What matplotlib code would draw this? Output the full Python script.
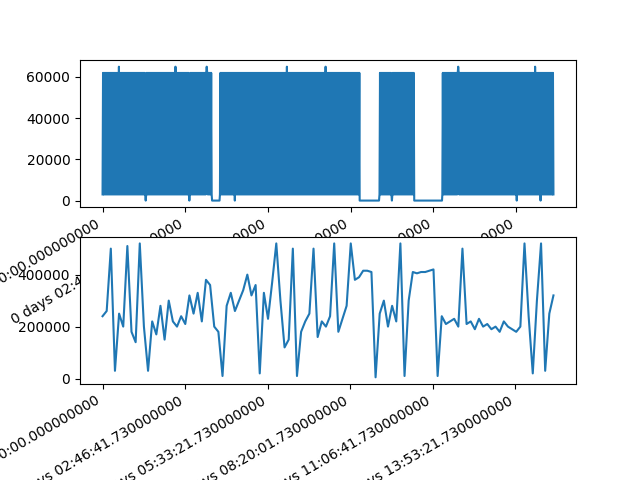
import numpy as np
import matplotlib
matplotlib.use("Agg")
from matplotlib import pyplot as plt

# top series: segments (start_s, end_s, level) ; 'osc' = oscillating between low and high
seg_start = [0, 13250, 14200, 31100, 33500, 37700, 41100]
seg_end = [13250, 14200, 31100, 33500, 37700, 41100, 54600]
seg_kind = ['osc', 'zero', 'osc', 'zero', 'osc', 'zero', 'osc']
osc_low, osc_high = 3000, 62000
spike_t = [2000, 5200, 8800, 10500, 12600, 16000, 22300, 27000, 35000, 43000, 50100, 52300, 53000]
spike_v = [65000, 0, 65000, 0, 65000, 0, 65000, 65000, 0, 65000, 0, 65000, 0]

# bottom series, sampled every ~500 s
bot_vals = [240000, 260000, 500000, 30000, 250000,
            200000, 510000, 180000, 140000, 520000,
            200000, 30000, 220000, 170000, 280000,
            150000, 300000, 220000, 200000, 240000,
            210000, 320000, 250000, 330000, 220000,
            380000, 360000, 200000, 180000, 10000,
            280000, 330000, 260000, 300000, 340000,
            400000, 320000, 360000, 20000, 330000,
            230000, 370000, 520000, 300000, 120000,
            150000, 500000, 10000, 180000, 220000,
            250000, 500000, 160000, 220000, 200000,
            240000, 520000, 180000, 230000, 280000,
            520000, 380000, 390000, 415000, 415000,
            410000, 5000, 250000, 300000, 200000,
            280000, 220000, 520000, 10000, 300000,
            410000, 405000, 410000, 410000, 415000,
            420000, 10000, 240000, 210000, 220000,
            230000, 200000, 500000, 210000, 220000,
            190000, 230000, 200000, 210000, 190000,
            200000, 180000, 220000, 200000, 190000,
            180000, 200000, 520000, 240000, 20000,
            300000, 520000, 30000, 250000, 320000]
bot_t = np.linspace(0, 54600, len(bot_vals))

tick_pos = [0, 10001.73, 20001.73, 30001.73, 40001.73, 50001.73]
tick_lab = ['0 days 00:00:00.000000000', '0 days 02:46:41.730000000', '0 days 05:33:21.730000000',
            '0 days 08:20:01.730000000', '0 days 11:06:41.730000000', '0 days 13:53:21.730000000']

# build top trace
tt, tv = [], []
for s, e, k in zip(seg_start, seg_end, seg_kind):
    ts = np.arange(s, e, 60.0)
    if k == 'osc':
        vals = np.where(np.arange(len(ts)) % 2 == 0, osc_low, osc_high)
    else:
        vals = np.zeros(len(ts))
    tt.extend(ts); tv.extend(vals)
tt = np.array(tt); tv = np.array(tv, dtype=float)
for st, sv in zip(spike_t, spike_v):
    tv[np.argmin(np.abs(tt - st))] = sv

fig, (ax1, ax2) = plt.subplots(2, 1, figsize=(6.4, 4.8), dpi=100)
fig.subplots_adjust(bottom=0.2, top=0.875, hspace=0.2)
ax1.plot(tt, tv, color='#1f77b4')
ax2.plot(bot_t, bot_vals, color='#1f77b4')
for ax in (ax1, ax2):
    ax.set_xticks(tick_pos)
    ax.set_xticklabels(tick_lab, rotation=30, ha='right')
ax1.set_yticks([0, 20000, 40000, 60000])
ax2.set_yticks([0, 200000, 400000])
plt.savefig('out.png')
